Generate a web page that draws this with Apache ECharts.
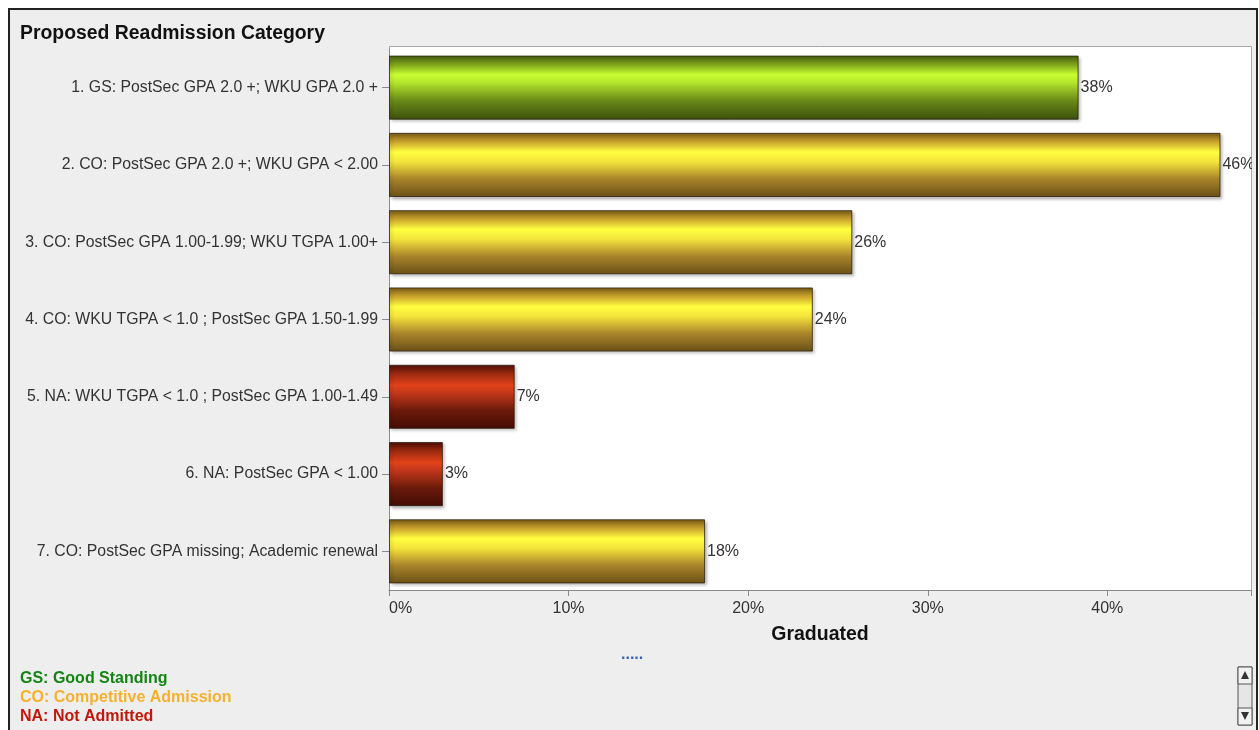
<!DOCTYPE html>
<html>
<head>
<meta charset="utf-8">
<script src="https://cdn.jsdelivr.net/npm/echarts@6/dist/echarts.min.js"></script>
<style>
  html, body { margin: 0; padding: 0; background: #ffffff; }
  #chart { width: 1259px; height: 730px; }
</style>
</head>
<body>
<div id="chart"></div>
<script>
// Readmission categories (top to bottom) and share graduated, in percent
const categories = [
  '1. GS: PostSec GPA 2.0 +; WKU GPA 2.0 +',
  '2. CO: PostSec GPA 2.0 +; WKU GPA < 2.00',
  '3. CO: PostSec GPA 1.00-1.99; WKU TGPA 1.00+',
  '4. CO: WKU TGPA < 1.0 ; PostSec GPA 1.50-1.99',
  '5. NA: WKU TGPA < 1.0 ; PostSec GPA 1.00-1.49',
  '6. NA: PostSec GPA < 1.00',
  '7. CO: PostSec GPA missing; Academic renewal'
];
const graduated = [38.4, 46.3, 25.8, 23.6, 7.0, 3.0, 17.6];
const xTicks = [0, 10, 20, 30, 40];
const legendNotes = ['GS: Good Standing', 'CO: Competitive Admission', 'NA: Not Admitted'];

const FONT = 'Liberation Sans, Arial, sans-serif';

// Bar fill per status code: dark edges with a bright band a bit above the middle
function shade(stops) {
  return new echarts.graphic.LinearGradient(0, 0, 0, 1,
    stops.map(([offset, color]) => ({ offset, color })));
}
const fills = {
  GS: shade([[0, '#46600e'], [0.14, '#7ea41c'], [0.3, '#c8ff32'], [0.42, '#b4e62c'], [0.7, '#6a8a18'], [1, '#3a500e']]),
  CO: shade([[0, '#7a5c16'], [0.14, '#c9a22c'], [0.3, '#ffff40'], [0.45, '#f4e43c'], [0.72, '#a8842a'], [1, '#6a5018']]),
  NA: shade([[0, '#4e0e05'], [0.14, '#9a2a10'], [0.32, '#e2421a'], [0.45, '#c0361a'], [0.72, '#6a1a0a'], [1, '#440c05']])
};
const noteColors = { GS: '#128512', CO: '#f5b12e', NA: '#c0180a' };
const codeOf = s => s.split(' ')[1].replace(':', '');

const chart = echarts.init(document.getElementById('chart'), null, { renderer: 'canvas' });

const barData = graduated.map((v, i) => ({
  value: v,
  itemStyle: { color: fills[codeOf(categories[i])] }
}));

const option = {
  animation: false,
  backgroundColor: 'transparent',
  textStyle: { fontFamily: FONT },
  title: {
    text: 'Proposed Readmission Category',
    left: 20, top: 24, padding: 0,
    textStyle: { fontSize: 19.4, fontWeight: 'bold', color: '#111', fontFamily: FONT }
  },
  grid: {
    left: 389, right: 8, top: 49, bottom: 140,
    show: false
  },
  xAxis: {
    type: 'value',
    min: 0, max: 48, interval: 10,
    name: 'Graduated',
    nameLocation: 'middle',
    nameGap: 35,
    nameTextStyle: { fontSize: 19.5, fontWeight: 'bold', color: '#111' },
    axisLine: { show: true, lineStyle: { color: '#8a8a8a' } },
    axisTick: { show: true, length: 6, lineStyle: { color: '#8a8a8a' } },
    splitLine: { show: false },
    axisLabel: {
      fontSize: 16, color: '#333', margin: 11,
      alignMinLabel: 'left',
      formatter: v => (xTicks.includes(v) ? v + '%' : '')
    }
  },
  yAxis: {
    type: 'category',
    inverse: true,
    data: categories,
    axisLine: { show: true, lineStyle: { color: '#8a8a8a' } },
    axisTick: { show: true, alignWithLabel: true, length: 7, lineStyle: { color: '#8a8a8a' } },
    axisLabel: { fontSize: 15.8, color: '#333', margin: 11 }
  },
  series: [{
    type: 'bar',
    data: barData,
    barCategoryGap: '17%',
    itemStyle: {
      borderColor: 'rgba(40,30,10,0.75)', borderWidth: 1,
      shadowColor: 'rgba(0,0,0,0.28)', shadowBlur: 3, shadowOffsetX: 2, shadowOffsetY: 2
    },
    label: {
      show: true, position: 'right', distance: 2,
      fontSize: 16, color: '#333',
      formatter: p => Math.round(p.value) + '%'
    }
  }],
  graphic: [
    // outer panel with dark frame
    { type: 'rect', z: -100, silent: true,
      shape: { x: 9, y: 9, width: 1248, height: 740 },
      style: { fill: '#eeeeee', stroke: '#222', lineWidth: 2 } },
    // white plot background with light border
    { type: 'rect', z: -50, silent: true,
      shape: { x: 389.5, y: 46.5, width: 862, height: 544 },
      style: { fill: '#ffffff', stroke: '#a8a8a8', lineWidth: 1 } },
    // clip value text that runs past the plot's right edge
    { type: 'rect', z: 100, silent: true,
      shape: { x: 1252, y: 46, width: 4, height: 545 },
      style: { fill: '#eeeeee' } },
    // small dotted splitter handle
    { type: 'text', z: 100, x: 621, y: 655, silent: true,
      style: { text: '.....', fill: '#3a63b0', font: 'bold 16px ' + FONT, verticalAlign: 'middle' } },
    // status code notes
    ...legendNotes.map((t, i) => ({
      type: 'text', z: 100, x: 20, y: 679 + i * 19, silent: true,
      style: { text: t, fill: noteColors[t.slice(0, 2)], font: 'bold 16px ' + FONT, verticalAlign: 'middle' }
    })),
    // scroll bar
    { type: 'rect', z: 100, silent: true,
      shape: { x: 1238, y: 667, width: 14, height: 58 },
      style: { fill: '#e6e6e6', stroke: '#555', lineWidth: 1 } },
    { type: 'rect', z: 101, silent: true,
      shape: { x: 1238, y: 667, width: 14, height: 17 },
      style: { fill: '#f2f2f2', stroke: '#555', lineWidth: 1 } },
    { type: 'rect', z: 101, silent: true,
      shape: { x: 1238, y: 708, width: 14, height: 17 },
      style: { fill: '#f2f2f2', stroke: '#555', lineWidth: 1 } },
    { type: 'polygon', z: 102, silent: true,
      shape: { points: [[1241, 679], [1249, 679], [1245, 671]] },
      style: { fill: '#333' } },
    { type: 'polygon', z: 102, silent: true,
      shape: { points: [[1241, 712], [1249, 712], [1245, 720]] },
      style: { fill: '#333' } }
  ]
};

chart.setOption(option);
</script>
</body>
</html>
